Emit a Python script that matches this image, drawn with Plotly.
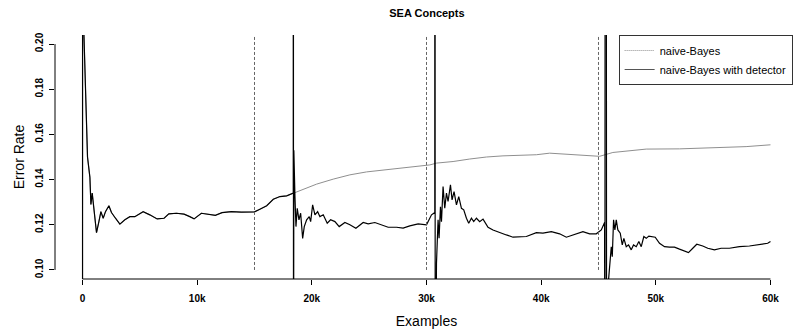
import plotly.graph_objects as go

# ---- data ----
x_ticks = [0, 10000, 20000, 30000, 40000, 50000, 60000]
x_tick_labels = ["0", "10k", "20k", "30k", "40k", "50k", "60k"]
y_ticks = [0.10, 0.12, 0.14, 0.16, 0.18, 0.20]
y_tick_labels = ["0.10", "0.12", "0.14", "0.16", "0.18", "0.20"]
drift_points = [15000, 30000, 45000]

# shared start (both models identical before the first detection)
early_x = [0, 20, 90, 261, 435, 644, 731, 845, 1019, 1220, 1429, 1602, 1803, 2003, 2300,
           2526, 2875, 3258, 3693, 4129, 4564, 4852, 5288, 5870, 6507, 7116, 7526, 8188,
           8859, 9355, 9730, 10366, 11097, 11586, 12170, 12979, 13851, 14582, 15000,
           15470, 16063, 16638, 17220, 17805, 18380]
early_y = [0.0, 1.0, 0.21, 0.177, 0.150, 0.141, 0.129, 0.134, 0.126, 0.1165, 0.1214, 0.1258,
           0.1229, 0.1258, 0.1284, 0.1254, 0.1229, 0.1203, 0.1222, 0.1236, 0.1236, 0.1244,
           0.1258, 0.1244, 0.1226, 0.1229, 0.1248, 0.1251, 0.1247, 0.1236, 0.1226, 0.1251,
           0.1244, 0.1242, 0.1254, 0.1258, 0.1256, 0.1257, 0.1257,
           0.1269, 0.1284, 0.1313, 0.1325, 0.1328, 0.1340]

# naive-Bayes without detector (after 18.4k)
nb_late_x = [19249, 20418, 21864, 23318, 24772, 26218, 27674, 29129, 30294, 30872, 32317,
             33772, 35227, 36671, 38127, 39582, 40741, 41900, 43354, 45096, 46254, 49164,
             52064, 54965, 57874, 60000]
nb_late_y = [0.1355, 0.1380, 0.1402, 0.1421, 0.1434, 0.1443, 0.1451, 0.1458, 0.1465, 0.1473,
             0.1480, 0.1491, 0.1500, 0.1505, 0.1507, 0.1510, 0.1517, 0.1513, 0.1510, 0.1503,
             0.1520, 0.1535, 0.1536, 0.1542, 0.1546, 0.1554]

# naive-Bayes with detector (after 18.4k, model resets at each detection)
det_late_x = [18380, 18400, 18430, 18527, 18615, 18727, 18876, 19024, 19199, 19339, 19547,
              19774, 19896, 20070, 20270, 20505, 20706, 20994, 21341, 21637, 22012, 22387,
              22883, 23318, 23842, 24478, 24913, 25497, 26080, 26655, 27387, 27961, 28545,
              29269, 30000, 30436, 30723,
              30723, 30760, 30870, 31010, 31096, 31218, 31305, 31445, 31593, 31741, 31880,
              32090, 32229, 32404, 32613, 32813, 33048, 33248, 33483, 33683, 33918, 34118,
              34354, 34641, 34930, 35366, 35800, 36385, 36968, 37544, 38127, 38710, 39582,
              40157, 40888, 41612, 42195, 42770, 43642, 44226, 44809, 45244, 45531,
              45560, 45620, 45700, 45850, 46115, 46202, 46315, 46429, 46551, 46690, 46899, 47073,
              47213, 47422, 47622, 47857, 48057, 48293, 48519, 48728, 48955, 49164, 49390,
              49739, 49948, 50322, 50758, 51193, 51629, 52064, 52500, 52848, 53223, 53571,
              54094, 54530, 55113, 55697, 56420, 57291, 58162, 59033, 59756, 60000]
det_late_y = [1.0, 0.0, 0.153, 0.1325, 0.1192, 0.1273, 0.1222, 0.1251, 0.114, 0.1192, 0.1222,
              0.1236, 0.1214, 0.1288, 0.1244, 0.1258, 0.1236, 0.1244, 0.1207, 0.1222, 0.1214,
              0.1192, 0.121, 0.12, 0.1185, 0.121, 0.1204, 0.121, 0.12, 0.1189, 0.1189, 0.1185,
              0.1195, 0.1204, 0.12, 0.1244, 0.1254,
              1.0, 0.0, 0.103, 0.1222, 0.114, 0.128, 0.1214, 0.1369, 0.1273, 0.134, 0.1303,
              0.1377, 0.131, 0.1347, 0.1288, 0.1325, 0.1273, 0.1266, 0.1229, 0.1207, 0.1229,
              0.1214, 0.1229, 0.1214, 0.1225, 0.1189, 0.1177, 0.1165, 0.1155, 0.1145, 0.1145,
              0.1148, 0.1165, 0.1163, 0.117, 0.116, 0.1145, 0.1155, 0.117, 0.116, 0.116,
              0.1177, 0.121,
              0.0, 1.0, 0.094, 0.094, 0.1103, 0.1059, 0.1222, 0.1177, 0.1222, 0.1177, 0.1163, 0.1111,
              0.114, 0.1103, 0.1111, 0.1089, 0.1111, 0.1103, 0.1126, 0.1103, 0.1148, 0.114,
              0.115, 0.1145, 0.1145, 0.1118, 0.1103, 0.1101, 0.1101, 0.1092, 0.1084, 0.1077,
              0.1096, 0.1114, 0.1106, 0.1096, 0.1089, 0.1096, 0.1096, 0.1103, 0.1106, 0.1114,
              0.1118, 0.1126]

nb_x = early_x + nb_late_x
nb_y = early_y + nb_late_y
det_x = early_x + det_late_x
det_y = early_y + det_late_y

FONT = "Liberation Sans, Arial, sans-serif"

# R-style 4% axis padding
xpad = (x_ticks[-1] - x_ticks[0]) * 0.04
ypad = (y_ticks[-1] - y_ticks[0]) * 0.04
x_range = [x_ticks[0] - xpad, x_ticks[-1] + xpad]
y_range = [y_ticks[0] - ypad, y_ticks[-1] + ypad]

fig = go.Figure()
fig.add_trace(go.Scatter(x=nb_x, y=nb_y, mode="lines", showlegend=False,
                         line=dict(color="#8f8f8f", width=1)))
fig.add_trace(go.Scatter(x=det_x, y=det_y, mode="lines", showlegend=False,
                         line=dict(color="black", width=1.2)))
# legend entries
fig.add_trace(go.Scatter(x=[None], y=[None], mode="lines", name="naive-Bayes",
                         line=dict(color="#8f8f8f", width=1, dash="1px,1px")))
fig.add_trace(go.Scatter(x=[None], y=[None], mode="lines", name="naive-Bayes with detector",
                         line=dict(color="#555555", width=1)))

shapes = []
for d in drift_points:
    shapes.append(dict(type="line", xref="x", yref="y", x0=d, x1=d,
                       y0=y_ticks[0], y1=y_range[1],
                       line=dict(color="#666666", width=1, dash="3px,2px")))
# R-style detached axis lines spanning first to last tick
shapes.append(dict(type="line", xref="x", yref="paper", x0=x_ticks[0], x1=x_ticks[-1],
                   y0=0, y1=0, line=dict(color="black", width=1)))
shapes.append(dict(type="line", xref="paper", yref="y", x0=0, x1=0,
                   y0=y_ticks[0], y1=y_ticks[-1], line=dict(color="black", width=1)))

fig.update_layout(
    width=798, height=329,
    margin=dict(l=55, r=0, t=35, b=50),
    plot_bgcolor="white", paper_bgcolor="white",
    font=dict(family=FONT, color="black"),
    title=dict(text="<b>SEA Concepts</b>", x=0.535, xanchor="center",
               y=1 - 13 / 329, yanchor="middle", yref="container",
               font=dict(size=11, family=FONT)),
    shapes=shapes,
    showlegend=True,
    legend=dict(x=0.7586, y=1, xanchor="left", yanchor="top",
                bordercolor="#333333", borderwidth=1, bgcolor="white",
                font=dict(size=11, family=FONT), itemwidth=30,
                tracegroupgap=0),
)
fig.update_xaxes(range=x_range, tickvals=x_ticks, ticktext=x_tick_labels,
                 showgrid=False, zeroline=False, showline=False,
                 ticks="outside", ticklen=5, tickcolor="black",
                 ticklabelstandoff=5,
                 tickfont=dict(size=10, weight="bold", family=FONT),
                 title=dict(text="Examples", font=dict(size=14, family=FONT), standoff=14))
fig.update_yaxes(range=y_range, tickvals=y_ticks, ticktext=y_tick_labels,
                 showgrid=False, zeroline=False, showline=False,
                 ticks="outside", ticklen=5, tickcolor="black", tickangle=-90,
                 ticklabelstandoff=2,
                 tickfont=dict(size=10, weight="bold", family=FONT),
                 title=dict(text="Error Rate", font=dict(size=14, family=FONT), standoff=6))

fig.write_html("out.html")
